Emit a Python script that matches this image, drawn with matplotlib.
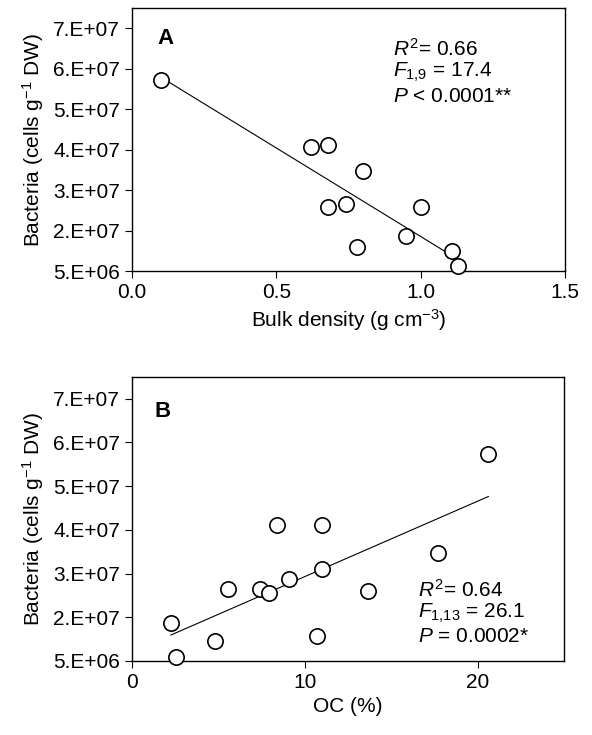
import matplotlib
matplotlib.use('Agg')
import matplotlib.pyplot as plt
import numpy as np

plt.rcParams['font.family'] = ['Liberation Sans', 'DejaVu Sans']
plt.rcParams['mathtext.fontset'] = 'custom'
plt.rcParams['mathtext.rm'] = 'Liberation Sans'
plt.rcParams['mathtext.it'] = 'Liberation Sans:italic'

# panel A: bulk density vs bacteria
bd_x = [0.10, 0.62, 0.68, 0.80, 0.68, 0.74, 1.00, 0.78, 0.95, 1.11, 1.13]
bd_y = [5.22e7, 3.58e7, 3.61e7, 2.98e7, 2.08e7, 2.16e7, 2.08e7, 1.09e7, 1.38e7, 0.99e7, 0.63e7]
bd_fit = [-4.37e7, 5.73e7]   # slope, intercept
bd_fit_range = [0.10, 1.135]

# panel B: organic carbon vs bacteria
oc_x = [2.27, 2.54, 4.82, 5.55, 7.42, 7.96, 8.38, 9.11, 10.98, 11.02, 13.64, 10.69, 17.72, 20.61]
oc_y = [1.36e7, 0.60e7, 0.96e7, 2.15e7, 2.15e7, 2.06e7, 3.60e7, 2.38e7, 3.60e7, 2.60e7, 2.09e7, 1.08e7, 2.96e7, 5.23e7]
oc_fit = [1.726e6, 0.703e7]
oc_fit_range = [2.27, 20.61]

y_ticks = [5e6, 1.5e7, 2.5e7, 3.5e7, 4.5e7, 5.5e7, 6.5e7]
y_labels = ['5.E+06', '2.E+07', '3.E+07', '4.E+07', '5.E+07', '6.E+07', '7.E+07']

fig = plt.figure(figsize=(5.92, 7.35), dpi=100)
axA = fig.add_axes([0.223, 0.631, 0.731, 0.358])
axB = fig.add_axes([0.2225, 0.1007, 0.7307, 0.3868])


def style(ax):
    ax.set_ylim(5e6, 7e7)
    ax.set_yticks(y_ticks)
    ax.set_yticklabels(y_labels)
    ax.tick_params(direction='out', length=5, width=0.8, labelsize=15, colors='black')
    for s in ax.spines.values():
        s.set_linewidth(1.0)
    ax.set_ylabel('Bacteria (cells g$^{\\mathregular{-1}}$ DW)', fontsize=15, labelpad=5)


for ax, xs, ys, fit, rng in [(axA, bd_x, bd_y, bd_fit, bd_fit_range),
                             (axB, oc_x, oc_y, oc_fit, oc_fit_range)]:
    lx = np.array(rng)
    ax.plot(lx, fit[0] * lx + fit[1], color='black', lw=0.8, zorder=2)
    ax.plot(xs, ys, 'o', ms=11, mfc='white', mec='black', mew=1.2, zorder=3, clip_on=False)
    style(ax)

axA.set_xlim(0, 1.5)
axA.set_xticks([0, 0.5, 1.0, 1.5])
axA.set_xticklabels(['0.0', '0.5', '1.0', '1.5'])
axA.set_xlabel('Bulk density (g cm$^{\\mathregular{-3}}$)', fontsize=15)
axA.text(0.078, 0.885, 'A', transform=axA.transAxes, fontsize=16, fontweight='bold',
         ha='center', va='center')
axA.text(0.603, 0.845, '$R^2$= 0.66', transform=axA.transAxes, fontsize=15, va='center')
axA.text(0.603, 0.755, '$F_{1{,}9}$ = 17.4', transform=axA.transAxes, fontsize=15, va='center')
axA.text(0.603, 0.665, '$P$ < 0.0001**', transform=axA.transAxes, fontsize=15, va='center')

axB.set_xlim(0, 25)
axB.set_xticks([0, 10, 20])
axB.set_xlabel('OC (%)', fontsize=15)
axB.text(0.071, 0.877, 'B', transform=axB.transAxes, fontsize=16, fontweight='bold',
         ha='center', va='center')
axB.text(0.6625, 0.250, '$R^2$= 0.64', transform=axB.transAxes, fontsize=15, va='center')
axB.text(0.6625, 0.167, '$F_{1{,}13}$ = 26.1', transform=axB.transAxes, fontsize=15, va='center')
axB.text(0.6625, 0.086, '$P$ = 0.0002*', transform=axB.transAxes, fontsize=15, va='center')

fig.savefig('out.png', dpi=100)
